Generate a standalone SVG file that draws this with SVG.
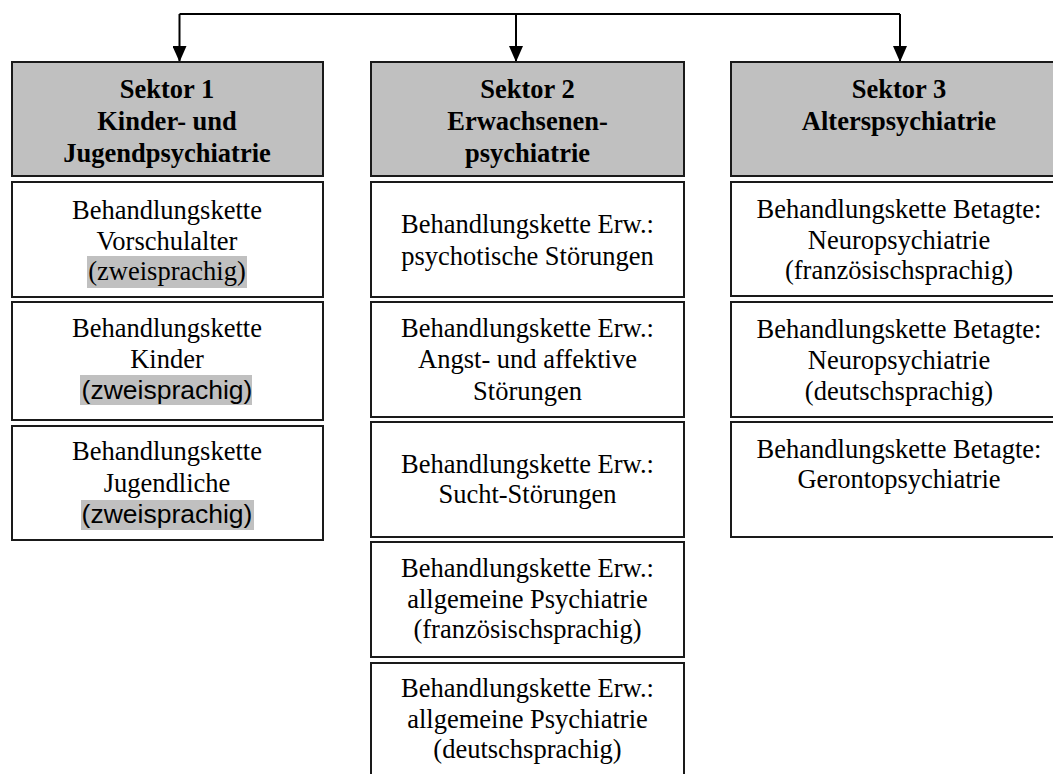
<svg xmlns="http://www.w3.org/2000/svg" width="1053" height="774" viewBox="0 0 1053 774">
<style>
.hdr{fill:#c0c0c0;stroke:#1a1a1a;stroke-width:2}
.box{fill:#ffffff;stroke:#1a1a1a;stroke-width:2}
.ht{font-family:"Liberation Serif","Times New Roman",serif;font-size:26.5px;font-weight:bold;fill:#000;text-anchor:middle}
.bt{font-family:"Liberation Serif","Times New Roman",serif;font-size:26.5px;fill:#000;text-anchor:middle}
.st{font-family:"Liberation Sans",Arial,sans-serif;font-size:26.5px;fill:#000;text-anchor:middle}
.hl{fill:#c0c0c0}
.conn{fill:none;stroke:#000;stroke-width:2}
</style>
<defs>
<marker id="arr" markerUnits="userSpaceOnUse" viewBox="0 0 16 14" refX="16" refY="7" markerWidth="16" markerHeight="14" orient="auto">
<path d="M0,0 L16,7 L0,14 z" fill="#000"/>
</marker>
</defs>
<rect width="1053" height="774" fill="#fff"/>
<g id="connectors">
<path class="conn" d="M179.5,14 H900"/>
<path class="conn" d="M179.5,14 V62" marker-end="url(#arr)"/>
<path class="conn" d="M516,14 V62" marker-end="url(#arr)"/>
<path class="conn" d="M900,14 V62" marker-end="url(#arr)"/>
</g>
<g id="sektor1">
<rect class="hdr" x="12" y="62" width="311" height="114"/>
<text class="ht" x="167" y="98">Sektor 1</text>
<text class="ht" x="167" y="130">Kinder- und</text>
<text class="ht" x="167" y="162">Jugendpsychiatrie</text>
</g>
<g id="sektor2">
<rect class="hdr" x="371" y="62" width="313" height="114"/>
<text class="ht" x="527.5" y="98">Sektor 2</text>
<text class="ht" x="527.5" y="130">Erwachsenen-</text>
<text class="ht" x="527.5" y="162">psychiatrie</text>
</g>
<g id="sektor3">
<rect class="hdr" x="731" y="62" width="336" height="114"/>
<text class="ht" x="899" y="98">Sektor 3</text>
<text class="ht" x="899" y="130">Alterspsychiatrie</text>
</g>
<g id="s1-vorschulalter">
<rect class="box" x="12" y="182" width="311" height="115"/>
<rect class="hl" x="87" y="256" width="160" height="32"/>
<text class="bt" x="167" y="219">Behandlungskette</text>
<text class="bt" x="167" y="250">Vorschulalter</text>
<text class="bt" x="167" y="280">(zweisprachig)</text>
</g>
<g id="s1-kinder">
<rect class="box" x="12" y="302" width="311" height="118"/>
<rect class="hl" x="80" y="375" width="172" height="30"/>
<text class="bt" x="167" y="337">Behandlungskette</text>
<text class="bt" x="167" y="368">Kinder</text>
<text class="st" x="167" y="399">(zweisprachig)</text>
</g>
<g id="s1-jugendliche">
<rect class="box" x="12" y="426" width="311" height="114"/>
<rect class="hl" x="81" y="500" width="173" height="30"/>
<text class="bt" x="167" y="460">Behandlungskette</text>
<text class="bt" x="167" y="492">Jugendliche</text>
<text class="st" x="167" y="523">(zweisprachig)</text>
</g>
<g id="s2-psychotisch">
<rect class="box" x="371" y="182" width="313" height="115"/>
<text class="bt" x="527.5" y="233">Behandlungskette Erw.:</text>
<text class="bt" x="527.5" y="265">psychotische Störungen</text>
</g>
<g id="s2-angst">
<rect class="box" x="371" y="302" width="313" height="115"/>
<text class="bt" x="527.5" y="337">Behandlungskette Erw.:</text>
<text class="bt" x="527.5" y="368">Angst- und affektive</text>
<text class="bt" x="527.5" y="400">Störungen</text>
</g>
<g id="s2-sucht">
<rect class="box" x="371" y="422" width="313" height="115"/>
<text class="bt" x="527.5" y="473">Behandlungskette Erw.:</text>
<text class="bt" x="527.5" y="503">Sucht-Störungen</text>
</g>
<g id="s2-allg-fr">
<rect class="box" x="371" y="542" width="313" height="115"/>
<text class="bt" x="527.5" y="577">Behandlungskette Erw.:</text>
<text class="bt" x="527.5" y="608">allgemeine Psychiatrie</text>
<text class="bt" x="527.5" y="638">(französischsprachig)</text>
</g>
<g id="s2-allg-de">
<rect class="box" x="371" y="663" width="313" height="120"/>
<text class="bt" x="527.5" y="697">Behandlungskette Erw.:</text>
<text class="bt" x="527.5" y="728">allgemeine Psychiatrie</text>
<text class="bt" x="527.5" y="758">(deutschsprachig)</text>
</g>
<g id="s3-neuro-fr">
<rect class="box" x="731" y="182" width="336" height="114"/>
<text class="bt" x="899" y="218">Behandlungskette Betagte:</text>
<text class="bt" x="899" y="249">Neuropsychiatrie</text>
<text class="bt" x="899" y="279">(französischsprachig)</text>
</g>
<g id="s3-neuro-de">
<rect class="box" x="731" y="302" width="336" height="115"/>
<text class="bt" x="899" y="338">Behandlungskette Betagte:</text>
<text class="bt" x="899" y="369">Neuropsychiatrie</text>
<text class="bt" x="899" y="400">(deutschsprachig)</text>
</g>
<g id="s3-geronto">
<rect class="box" x="731" y="422" width="336" height="115"/>
<text class="bt" x="899" y="458">Behandlungskette Betagte:</text>
<text class="bt" x="899" y="488">Gerontopsychiatrie</text>
</g>
</svg>
